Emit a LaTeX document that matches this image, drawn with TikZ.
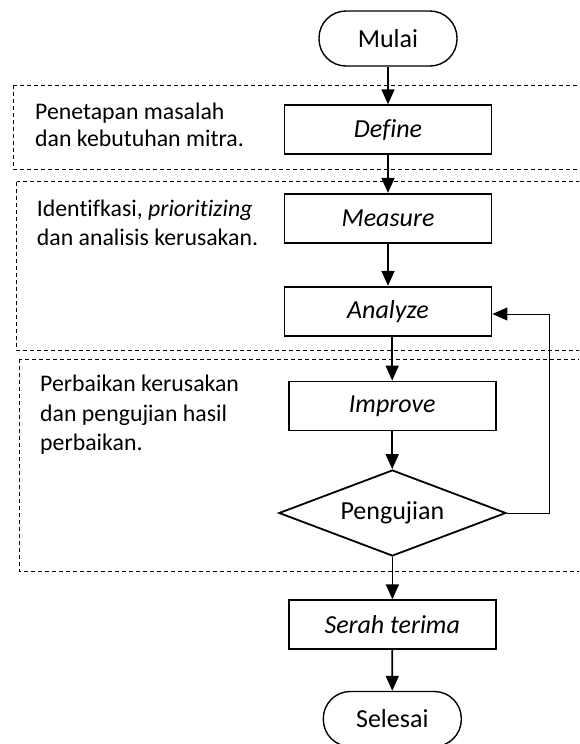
\documentclass[tikz,border=0pt]{standalone}
\usepackage{fontspec}
\setmainfont{Carlito}[Ligatures=NoCommon]
\usetikzlibrary{arrows.meta,shapes.geometric}
\newcommand\figfs{\fontsize{23.8}{28}\selectfont}
\newcommand\figbfs{\fontsize{26}{30}\selectfont}
\begin{document}
\begin{tikzpicture}[x=1pt,y=-1pt,
  box/.style={draw, line width=1.8pt, minimum width=207pt, minimum height=49pt, inner sep=0pt, font=\figbfs\itshape},
  term/.style={draw, line width=1.4pt, rounded corners=27pt, minimum width=138pt, minimum height=55pt, inner sep=0pt, font=\figbfs},
  dec/.style={draw, diamond, shape aspect=2.64, line width=1.8pt, minimum width=227pt, minimum height=86pt, inner sep=0pt, font=\figbfs},
  arr/.style={line width=1.7pt, -{Triangle[length=15pt,width=13pt]}},
  fbarr/.style={line width=0.9pt, -{Triangle[length=15pt,width=13pt]}},
  zone/.style={line width=0.8pt, dash pattern=on 4pt off 3pt},
  note/.style={anchor=base west, inner sep=0pt, font=\figfs}]
\useasboundingbox (0,0) rectangle (579,744);
\clip (0,0) rectangle (579,744);

% dashed zones
\draw[zone] (13.3,85) rectangle (620,169.5);
\draw[zone] (16.7,181.5) rectangle (620,350);
\draw[zone] (19,359) rectangle (620,571.5);

% notes
\node[note] (t1a) at (35,119.3) {Penetapan masalah};
\node[note] (t1b) at (35,146.7) {dan kebutuhan mitra.};
\node[note] (t2a) at (36.7,216.7) {Identifkasi, \textit{prioritizing}};
\node[note] (t2b) at (36.7,245) {dan analisis kerusakan.};
\node[note] (t3a) at (40,391.7) {Perbaikan kerusakan};
\node[note] (t3b) at (40,421) {dan pengujian hasil};
\node[note] (t3c) at (40,450.5) {perbaikan.};

% flow nodes
\node[term] (mulai) at (388,38.5) {Mulai};
\node[box] (define) at (388,129.7) {Define};
\node[box] (measure) at (388,218.3) {Measure};
\node[box] (analyze) at (388,311.2) {Analyze};
\node[box] (improve) at (392.2,406) {Improve};
\node[dec] (uji) at (392.4,513) {Pengujian};
\node[box] (serah) at (392.2,624.7) {Serah terima};
\node[term] (selesai) at (392.3,719) {Selesai};

% connectors
\draw[arr] (mulai) -- (define);
\draw[arr] (define) -- (measure);
\draw[arr] (measure) -- (analyze);
\draw[arr] (analyze.south -| improve.north) -- (improve.north);
\draw[arr] (improve.south) -- (improve.south |- uji.north);
\draw[arr] (uji.south) -- (uji.south |- serah.north);
\draw[arr] (serah) -- (selesai);
\coordinate (fbc) at (549,314);
\draw[fbarr] (uji.east) -| (fbc) -- (fbc -| analyze.east);
\end{tikzpicture}
\end{document}
